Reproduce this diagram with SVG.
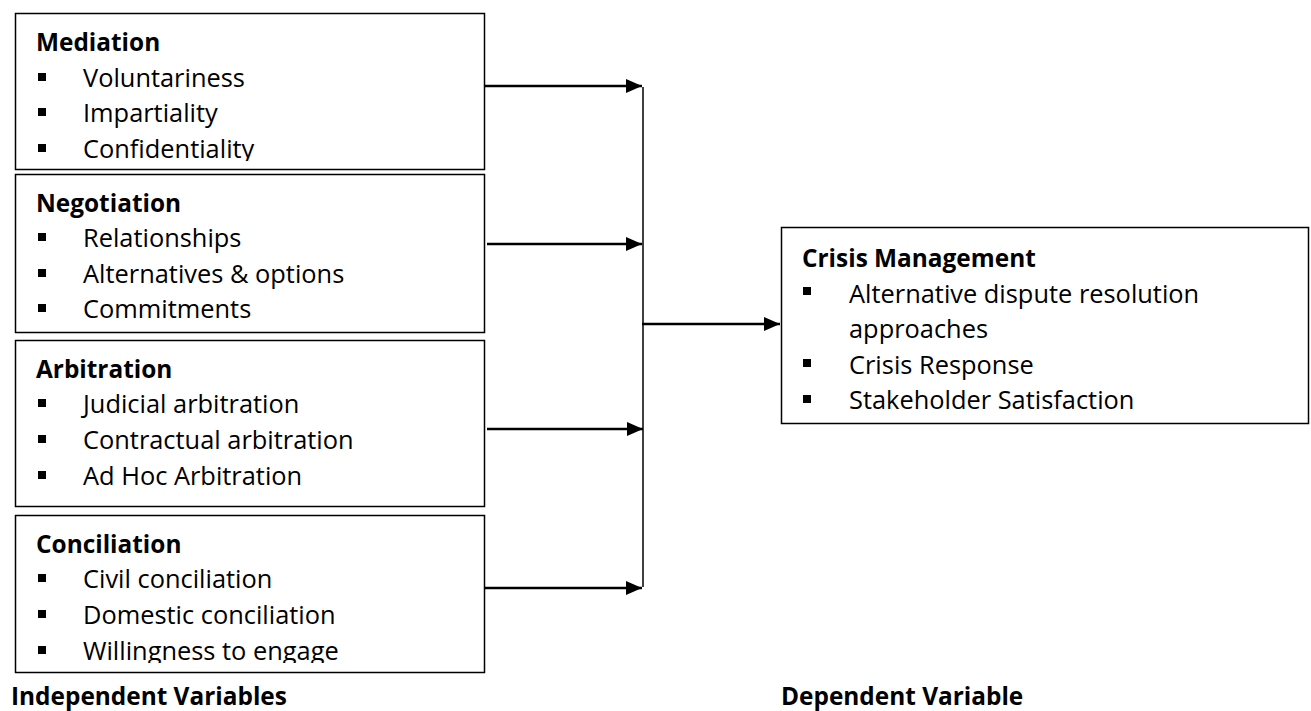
<svg xmlns="http://www.w3.org/2000/svg" width="1311" height="711" viewBox="0 0 1311 711">
<style>
.box{fill:#fff;stroke:#000;stroke-width:1.5}
.h{font-family:"Open Sans","Liberation Sans",sans-serif;font-weight:bold;font-size:24.4px;fill:#000}
.t{font-family:"Open Sans","Liberation Sans",sans-serif;font-size:25.4px;fill:#000}
.b{fill:#000}
.arr{stroke:#000;stroke-width:2.5;fill:none;marker-end:url(#ah)}
.ln{stroke:#000;stroke-width:1.5;fill:none}
</style>
<defs>
<marker id="ah" markerUnits="userSpaceOnUse" markerWidth="16" markerHeight="14" refX="16" refY="7" orient="auto">
<path d="M0,0 L16,7 L0,14 Z" fill="#000"/>
</marker>
<clipPath id="c1"><rect x="15" y="13" width="470" height="148"/></clipPath>
<clipPath id="c4"><rect x="15" y="515" width="470" height="148"/></clipPath>
</defs>
<rect width="1311" height="711" fill="#fff"/>
<g id="mediation">
<rect class="box" x="15.5" y="13.5" width="469" height="156"/>
<g clip-path="url(#c1)">
<text class="h" x="36" y="51">Mediation</text>
<rect class="b" x="38" y="73" width="8" height="8"/><text class="t" x="83" y="87">Voluntariness</text>
<rect class="b" x="38" y="108" width="8" height="8"/><text class="t" x="83" y="122">Impartiality</text>
<rect class="b" x="38" y="144" width="8" height="8"/><text class="t" x="83" y="158">Confidentiality</text>
</g>
</g>
<g id="negotiation">
<rect class="box" x="15.5" y="174.5" width="469" height="158"/>
<text class="h" x="36" y="212">Negotiation</text>
<rect class="b" x="38" y="233" width="8" height="8"/><text class="t" x="83" y="247">Relationships</text>
<rect class="b" x="38" y="269" width="8" height="8"/><text class="t" x="83" y="283">Alternatives &amp; options</text>
<rect class="b" x="38" y="304" width="8" height="8"/><text class="t" x="83" y="318">Commitments</text>
</g>
<g id="arbitration">
<rect class="box" x="15.5" y="340.5" width="469" height="166"/>
<text class="h" x="36" y="378">Arbitration</text>
<rect class="b" x="38" y="399" width="8" height="8"/><text class="t" x="83" y="413">Judicial arbitration</text>
<rect class="b" x="38" y="435" width="8" height="8"/><text class="t" x="83" y="449">Contractual arbitration</text>
<rect class="b" x="38" y="471" width="8" height="8"/><text class="t" x="83" y="485">Ad Hoc Arbitration</text>
</g>
<g id="conciliation">
<rect class="box" x="15.5" y="515.5" width="469" height="157"/>
<g clip-path="url(#c4)">
<text class="h" x="36" y="553">Conciliation</text>
<rect class="b" x="38" y="574" width="8" height="8"/><text class="t" x="83" y="588">Civil conciliation</text>
<rect class="b" x="38" y="610" width="8" height="8"/><text class="t" x="83" y="624">Domestic conciliation</text>
<rect class="b" x="38" y="646" width="8" height="8"/><text class="t" x="83" y="660">Willingness to engage</text>
</g>
</g>
<g id="crisis-management">
<rect class="box" x="781.5" y="227.5" width="527" height="196"/>
<text class="h" x="802" y="266.5">Crisis Management</text>
<rect class="b" x="803" y="287" width="8" height="8"/><text class="t" x="849" y="302.5">Alternative dispute resolution</text>
<text class="t" x="849" y="338">approaches</text>
<rect class="b" x="803" y="359" width="8" height="8"/><text class="t" x="849" y="373.5">Crisis Response</text>
<rect class="b" x="803" y="395" width="8" height="8"/><text class="t" x="849" y="409">Stakeholder Satisfaction</text>
</g>
<g id="labels">
<text class="h" x="11" y="705">Independent Variables</text>
<text class="h" x="781" y="705">Dependent Variable</text>
</g>
<g id="connectors">
<line class="ln" x1="643" y1="87" x2="643" y2="587"/>
<line class="arr" x1="485" y1="86" x2="642" y2="86"/>
<line class="arr" x1="487" y1="244" x2="642" y2="244"/>
<line class="arr" x1="487" y1="429" x2="643" y2="429"/>
<line class="arr" x1="485" y1="588" x2="642" y2="588"/>
<line class="arr" x1="642" y1="324" x2="780" y2="324"/>
</g>
</svg>
